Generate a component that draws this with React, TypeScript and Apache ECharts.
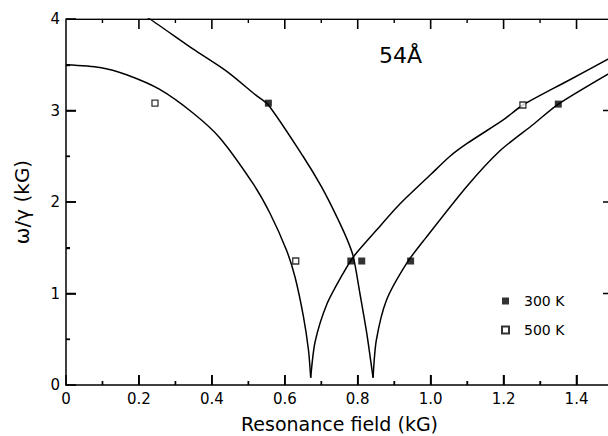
import React, { useEffect, useRef } from "react";
import * as echarts from "echarts";

// Fitted curves: [field kG, omega/gamma kG]
const curveLowLeft: [number, number][] = [
  [0, 3.5], [0.093, 3.47], [0.166, 3.39], [0.257, 3.23], [0.349, 2.97], [0.422, 2.7],
  [0.513, 2.2], [0.559, 1.88], [0.605, 1.47], [0.628, 1.18], [0.651, 0.75], [0.665, 0.38], [0.671, 0.08],
];
const curveLowRight: [number, number][] = [
  [0.671, 0.08], [0.683, 0.47], [0.715, 0.88], [0.76, 1.22], [0.792, 1.42], [0.851, 1.69],
  [0.916, 1.98], [1.0, 2.3], [1.053, 2.5], [1.1, 2.64], [1.2, 2.9], [1.253, 3.06], [1.374, 3.32], [1.5, 3.59],
];
const curveHighLeft: [number, number][] = [
  [0.2, 4.07], [0.23, 4.0], [0.349, 3.67], [0.44, 3.43], [0.52, 3.17], [0.555, 3.06], [0.65, 2.5],
  [0.7, 2.17], [0.74, 1.86], [0.77, 1.6], [0.788, 1.4], [0.806, 1.0], [0.825, 0.56], [0.842, 0.08],
];
const curveHighRight: [number, number][] = [
  [0.842, 0.08], [0.851, 0.49], [0.879, 0.93], [0.934, 1.33], [0.985, 1.6], [1.099, 2.17],
  [1.19, 2.56], [1.282, 2.85], [1.35, 3.07], [1.5, 3.43],
];

// Measured points
const points300K: [number, number][] = [
  [0.555, 3.08], [0.781, 1.355], [0.811, 1.355], [0.945, 1.355], [1.35, 3.07],
];
const points500K: [number, number][] = [
  [0.244, 3.08], [0.63, 1.355], [1.253, 3.06],
];

// Axis ticks
const xTicks = [0, 0.2, 0.4, 0.6, 0.8, 1.0, 1.2, 1.4];
const xMinorTicks = [0.1, 0.3, 0.5, 0.7, 0.9, 1.1, 1.3];
const yTicks = [0, 1, 2, 3, 4];
const yMinorTicks = [0.5, 1.5, 2.5, 3.5];
const X_MIN = 0;
const X_MAX = 1.5;
const Y_MIN = 0;
const Y_MAX = 4;

const FONT = "DejaVu Sans";

export default function App() {
  const ref = useRef<HTMLDivElement>(null);
  useEffect(() => {
    if (!ref.current) return;
    const chart = echarts.init(ref.current, null, { renderer: "svg" });
    const lineSeries = (name: string, data: [number, number][]) => ({
      name,
      type: "line",
      data,
      symbol: "none",
      smooth: 0.25,
      lineStyle: { color: "#000", width: 1.5 },
      z: 2,
      silent: true,
    });
    const seg = (name: string, data: [number, number][], width: number) => ({
      name,
      type: "line",
      data,
      symbol: "none",
      lineStyle: { color: "black", width },
      z: 2,
    });
    const yUnitsPerPx = (Y_MAX - Y_MIN) / 366;
    const xUnitsPerPx = (X_MAX - X_MIN) / 547;
    const tickSeries: any[] = [];
    const addX = (vals: number[], px: number, w: number, tag: string) => {
      vals.forEach((v, i) => {
        tickSeries.push(seg(`${tag}b${i}`, [[v, Y_MIN], [v, Y_MIN + px * yUnitsPerPx]], w));
        tickSeries.push(seg(`${tag}t${i}`, [[v, Y_MAX], [v, Y_MAX - px * yUnitsPerPx]], w));
      });
    };
    const addY = (vals: number[], px: number, w: number, tag: string) => {
      vals.forEach((v, i) => {
        tickSeries.push(seg(`${tag}l${i}`, [[X_MIN, v], [X_MIN + px * xUnitsPerPx, v]], w));
        tickSeries.push(seg(`${tag}r${i}`, [[X_MAX, v], [X_MAX - px * xUnitsPerPx, v]], w));
      });
    };
    addX(xTicks.slice(1), 10, 1.6, "xM");
    addX(xMinorTicks, 4, 1.4, "xm");
    addY(yTicks.slice(1, -1), 10, 1.6, "yM");
    addY(yMinorTicks, 4, 1.4, "ym");
    tickSeries.push(seg("frameTop", [[X_MIN, Y_MAX - 0.002], [X_MAX, Y_MAX - 0.002]], 1.6));

    const xFmt = (v: number) => {
      const hit = xTicks.find((t) => Math.abs(t - v) < 1e-6);
      if (hit === undefined) return "";
      return hit === 0 ? "0" : hit.toFixed(1);
    };
    const yFmt = (v: number) => {
      const hit = yTicks.find((t) => Math.abs(t - v) < 1e-6);
      return hit === undefined ? "" : String(hit);
    };
    chart.setOption({
      animation: false,
      title: {
        text: "54Å",
        left: 379,
        top: 44,
        padding: 0,
        textStyle: { fontSize: 22, fontWeight: "normal", fontFamily: FONT, color: "#000" },
      },
      legend: {
        left: 496,
        top: 289,
        orient: "vertical",
        itemWidth: 7,
        itemHeight: 7,
        itemGap: 15,
        data: ["300 K", "500 K"],
        textStyle: { fontSize: 14, fontFamily: FONT, color: "#000", padding: [0, 0, 0, 10] },
      },
      grid: { left: 66, right: 7, top: 19, bottom: 51, outerBoundsMode: "none", containLabel: false },
      xAxis: {
        type: "value",
        min: X_MIN,
        max: X_MAX,
        interval: 0.2,
        axisLine: { show: true, onZero: false, lineStyle: { color: "#000", width: 1.5 } },
        axisTick: { show: true, inside: true, length: 10, lineStyle: { color: "black", width: 1.6 } },
        minorTick: { show: true, splitNumber: 2, length: 4, lineStyle: { color: "black", width: 1.4 } },
        splitLine: { show: false },
        axisLabel: { show: true, formatter: xFmt, fontSize: 15, fontFamily: FONT, color: "#000", margin: 6 },
        name: "Resonance field (kG)",
        nameLocation: "middle",
        nameGap: 29,
        nameTextStyle: { fontSize: 19, fontFamily: FONT, color: "#000" },
      },
      yAxis: {
        type: "value",
        min: Y_MIN,
        max: Y_MAX,
        interval: 1,
        axisLine: { show: true, onZero: false, lineStyle: { color: "#000", width: 1.5 } },
        axisTick: { show: true, inside: true, length: 10, lineStyle: { color: "black", width: 1.6 } },
        minorTick: { show: true, splitNumber: 2, length: 4, lineStyle: { color: "black", width: 1.4 } },
        splitLine: { show: false },
        axisLabel: { show: true, formatter: yFmt, fontSize: 15, fontFamily: FONT, color: "#000", margin: 6 },
        name: "ω/γ (kG)",
        nameLocation: "middle",
        nameGap: 34,
        nameTextStyle: { fontSize: 20, fontFamily: FONT, color: "#000" },
      },
      series: [
        lineSeries("fitLowLeft", curveLowLeft),
        lineSeries("fitLowRight", curveLowRight),
        lineSeries("fitHighLeft", curveHighLeft),
        lineSeries("fitHighRight", curveHighRight),
        ...tickSeries,
        {
          name: "300 K",
          type: "scatter",
          data: points300K,
          symbol: "rect",
          symbolSize: 7,
          itemStyle: { color: "#000" },
          z: 5,
        },
        {
          name: "500 K",
          type: "scatter",
          data: points500K,
          symbol: "rect",
          symbolSize: 6,
          itemStyle: { color: "#fff", borderColor: "#000", borderWidth: 1.3 },
          z: 5,
        },
      ],
    });
    return () => chart.dispose();
  }, []);
  return (
    <div style={{ position: "absolute", left: 0, top: 0, width: 608, height: 436, overflow: "hidden", background: "#fff" }}>
      <div ref={ref} style={{ width: 620, height: 436 }} />
    </div>
  );
}
